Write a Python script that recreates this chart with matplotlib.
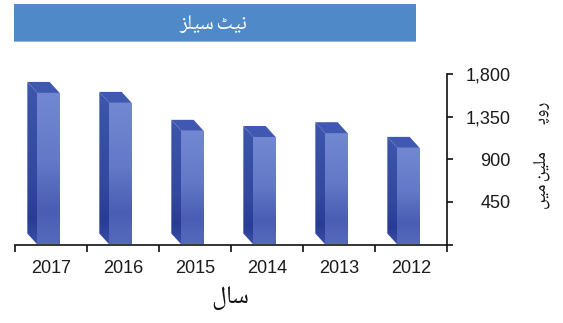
import numpy as np
import matplotlib
matplotlib.use("Agg")
import matplotlib.pyplot as plt
from matplotlib.patches import Polygon, Rectangle
from matplotlib.colors import LinearSegmentedColormap
from matplotlib import font_manager

# Net sales by year (Rs. in million), laid out right-to-left
years = ["2017", "2016", "2015", "2014", "2013", "2012"]
net_sales = [1600, 1495, 1200, 1135, 1175, 1020]
y_ticks = [0, 450, 900, 1350, 1800]
y_tick_labels = ["", "450", "900", "1,350", "1,800"]

# Urdu strings written in presentation forms, visual (left-to-right) order
title_text = "\uFEB0\uFEE0\uFBFF\uFEB3 \uFB67\uFBFF\uFEE7"          # نیٹ سیلز
xlabel_text = "\uFEDD\uFE8E\uFEB3"                                   # سال
ylabel_text = "\uFB9F\uFBFF\uFEE3 \uFEE6\uFBFF\uFEE0\uFEE3 \u06D2\uFB58\uFEED\uFEAD"  # روپے ملین میں

plt.rcParams["font.family"] = ["Liberation Sans", "DejaVu Sans"]

# families that can draw Urdu letters, best first
available = {f.name for f in font_manager.fontManager.ttflist}
candidates = ["Noto Nastaliq Urdu", "Noto Naskh Arabic", "Noto Sans Arabic", "Noto Sans Arabic UI",
              "Amiri", "Scheherazade New", "FreeSans", "FreeSerif", "DejaVu Sans", "DejaVu Serif",
              "DejaVu Sans Mono", "Noto Sans"]
urdu_font = [c for c in candidates if c in available] or ["DejaVu Sans"]

W, H = 563, 323
fig = plt.figure(figsize=(W / 100, H / 100), dpi=100)
fig.patch.set_facecolor("white")

# axes placement in pixels
ax_left, ax_right, ax_bottom, ax_top = 15, 447, 244.5, 74
ax = fig.add_axes([ax_left / W, (H - ax_bottom) / H,
                   (ax_right - ax_left) / W, (ax_bottom - ax_top) / H])
ax.set_xlim(-0.5, len(years) - 0.5)
ax.set_ylim(0, 1800)

# pixel-to-data conversions for the 3D depth of each column
px_x = (len(years)) / (ax_right - ax_left)
px_y = 1800 / (ax_bottom - ax_top)
depth_dx = -10 * px_x
depth_dy = 11 * px_y

front_cmap = LinearSegmentedColormap.from_list(
    "front", [(0.0, "#7289d1"), (0.45, "#6479c7"), (0.78, "#4a5db4"), (1.0, "#566abc")])
side_cmap = LinearSegmentedColormap.from_list(
    "side", [(0.0, "#3e56ae"), (0.6, "#33489f"), (0.85, "#283c96"), (1.0, "#3a4fa6")])

bar_w = 0.31
xs = np.arange(len(years)) - 0.035
bars = ax.bar(xs, net_sales, width=bar_w, color="none", edgecolor="none", zorder=3)

for rect, v in zip(bars, net_sales):
    x0 = rect.get_x()
    x1 = x0 + rect.get_width()
    # front face gradient
    grad = np.linspace(0, 1, 256).reshape(-1, 1)
    im = ax.imshow(grad, cmap=front_cmap, aspect="auto", extent=(x0, x1, 0, v),
                   origin="upper", zorder=3)
    im.set_clip_path(rect)
    # left side face
    side = Polygon([(x0, v), (x0, 0), (x0 + depth_dx, depth_dy), (x0 + depth_dx, v + depth_dy)],
                   closed=True, facecolor="none", edgecolor="none", zorder=2)
    ax.add_patch(side)
    im2 = ax.imshow(grad, cmap=side_cmap, aspect="auto",
                    extent=(x0 + depth_dx, x0, 0, v + depth_dy), origin="upper", zorder=2)
    im2.set_clip_path(side)
    # top face
    top = Polygon([(x0, v), (x1, v), (x1 + depth_dx, v + depth_dy), (x0 + depth_dx, v + depth_dy)],
                  closed=True, facecolor="#4058b2", edgecolor="none", zorder=4)
    ax.add_patch(top)

ax.set_xlim(-0.5, len(years) - 0.5)
ax.set_ylim(0, 1800)

for s in ["top", "left"]:
    ax.spines[s].set_visible(False)
for s in ["bottom", "right"]:
    ax.spines[s].set_color("#111111")
    ax.spines[s].set_linewidth(1.2)

# category boundary ticks with labels at the centres
ax.set_xticks(np.arange(len(years) + 1) - 0.5)
ax.set_xticklabels([])
ax.set_xticks(np.arange(len(years)), minor=True)
ax.set_xticklabels(years, minor=True, fontsize=13, color="#1a1a1a")
ax.tick_params(axis="x", which="major", direction="out", length=5, width=1.2, color="#111111")
ax.tick_params(axis="x", which="minor", length=0, pad=11)

ax.yaxis.tick_right()
ax.set_yticks(y_ticks)
ax.set_yticklabels(y_tick_labels, fontsize=13, color="#1a1a1a")
ax.tick_params(axis="y", direction="out", length=4, width=1.2, color="#111111", pad=42)
for lab in ax.get_yticklabels():
    lab.set_horizontalalignment("right")

# title banner
fig.patches.append(Rectangle((14 / W, (H - 42) / H), 402 / W, 2 / H, transform=fig.transFigure,
                             facecolor="#9fb3cc", edgecolor="none"))
fig.patches.append(Rectangle((14 / W, (H - 41) / H), 402 / W, 37 / H, transform=fig.transFigure,
                             facecolor="#5089c7", edgecolor="none"))
fig.text(213 / W, (H - 23) / H, title_text, family=urdu_font, fontsize=15, color="white",
         ha="center", va="center")

fig.text(230 / W, (H - 297) / H, xlabel_text, family=urdu_font, fontsize=18, color="#111111",
         ha="center", va="center")
fig.text(541 / W, (H - 155) / H, ylabel_text, family=urdu_font, fontsize=13, color="#111111",
         ha="center", va="center", rotation=90)

fig.savefig("out.png", dpi=100, facecolor="white")
